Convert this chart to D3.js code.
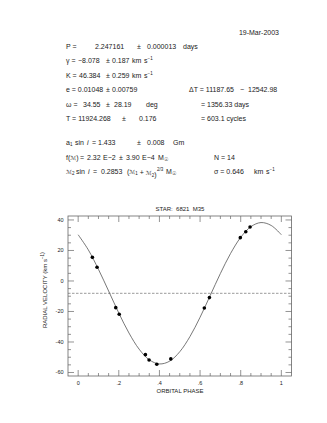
<!DOCTYPE html>
<html>
<head>
<meta charset="utf-8">
<script src="https://cdn.jsdelivr.net/npm/d3@7"></script>
<style>
  body { margin: 0; background: #fff; }
  svg { display: block; font-family: "Liberation Sans", Arial, sans-serif; }
  text { fill: #1a1a1a; }
  .scr { font-family: "DejaVu Sans", sans-serif; font-size: 5.6px; }
</style>
</head>
<body>
<svg width="327" height="423"></svg>
<script>
const svg = d3.select("svg");

// observed radial velocities (phase, km/s)
const obsPhase = [0.070, 0.093, 0.185, 0.202, 0.331, 0.349, 0.387, 0.456, 0.621, 0.646, 0.798, 0.825, 0.846];
const obsRV    = [15.5, 9.0, -17.5, -21.8, -48.3, -51.8, -54.6, -51.1, -17.7, -10.9, 28.4, 32.3, 35.4];

// orbit curve
const curvePhase = [0, 0.05, 0.10, 0.15, 0.20, 0.25, 0.30, 0.35, 0.40, 0.45, 0.50,
                    0.55, 0.60, 0.65, 0.70, 0.75, 0.80, 0.85, 0.90, 0.95, 1.00];
const curveRV    = [30.3, 20.4, 7.6, -6.6, -21.0, -34.1, -44.7, -51.7, -54.4, -52.6, -46.4,
                    -36.5, -23.8, -9.5, 4.9, 18.0, 28.6, 35.6, 38.3, 36.4, 30.3];

const gamma = -8.078;

const xMajor = [0, 0.2, 0.4, 0.6, 0.8, 1];
const xLabels = ["0", ".2", ".4", ".6", ".8", "1"];
const yMajor = [40, 20, 0, -20, -40, -60];
const yLabels = ["40", "20", "0", "-20", "-40", "-60"];

// plot area
const L = 68, R = 291.5, T = 216, B = 376;

const x = d3.scaleLinear().domain([-0.05, 1.05]).range([L, R]);
const y = d3.scaleLinear().domain([-62.3, 42.6]).range([B, T]);

// ---- header text ----
const sup = s => `<tspan dy="-2.6" font-size="4.5">${s}</tspan><tspan dy="2.6"></tspan>`;
const sub = s => `<tspan dy="1.3" font-size="4.5">${s}</tspan><tspan dy="-1.3"></tspan>`;
const M = "<tspan class='scr'>ℳ</tspan>";
function txt(px, py, html, anchor) {
  svg.append("text")
    .attr("x", px).attr("y", py)
    .attr("font-size", 7)
    .attr("text-anchor", anchor || "start")
    .html(html);
}

txt(279, 35, "19-Mar-2003", "end");

txt(66, 49, "P =");
txt(95, 49, "2.247161");
txt(137, 49, "±");
txt(147, 49, "0.000013");
txt(183, 49, "days");

txt(66, 63, "γ =");
txt(78, 63, "−8.078");
txt(106, 63, "±");
txt(112, 63, "0.187");
txt(132, 63, "km");
txt(144, 63, "s" + sup("−1"));

txt(66, 77.5, "K =");
txt(79, 77.5, "46.384");
txt(106, 77.5, "±");
txt(112, 77.5, "0.259");
txt(132, 77.5, "km");
txt(144, 77.5, "s" + sup("−1"));

txt(66, 92, "e = 0.01048");
txt(106, 92, "±");
txt(112, 92, "0.00759");
txt(189, 92, "ΔT = 11187.65");
txt(240, 92, "−");
txt(248, 92, "12542.98");

txt(66, 106.5, "ω =");
txt(83, 106.5, "34.55");
txt(106, 106.5, "±");
txt(114, 106.5, "28.19");
txt(146, 106.5, "deg");
txt(201, 106.5, "= 1356.33 days");

txt(66, 121, "T = 11924.268");
txt(122, 121, "±");
txt(139, 121, "0.176");
txt(201, 121, "= 603.1 cycles");

txt(66, 145, "a" + sub("1"));
txt(75, 145, "sin");
txt(87, 145, "<tspan font-style='italic'>i</tspan>");
txt(92, 145, "=");
txt(98, 145, "1.433");
txt(137, 145, "±");
txt(147, 145, "0.008");
txt(173, 145, "Gm");

txt(66, 159.5, "f(" + M + ")");
txt(80, 159.5, "=");
txt(87, 159.5, "2.32");
txt(103, 159.5, "E−2");
txt(119, 159.5, "±");
txt(126, 159.5, "3.90");
txt(142, 159.5, "E−4");
txt(158, 159.5, "M" + sub("☉"));
txt(214, 159.5, "N = 14");

txt(66, 174, M + sub("2"));
txt(76, 174, "sin");
txt(88, 174, "<tspan font-style='italic'>i</tspan>");
txt(93, 174, "=");
txt(101, 174, "0.2853");
txt(127, 174, "(" + M + sub("1") + " + " + M + sub("2") + ")");
txt(157, 174, sup("2/3"));
txt(166, 174, "M" + sub("☉"));
txt(214, 174, "σ  =  0.646");
txt(254, 174, "km");
txt(266, 174, "s" + sup("−1"));

// ---- plot ----
const g = svg.append("g");

// frame
g.append("rect")
  .attr("x", L).attr("y", T)
  .attr("width", R - L).attr("height", B - T)
  .attr("fill", "none").attr("stroke", "#666").attr("stroke-width", 0.8);

// ticks (major + minor) on all four sides
const xMinor = d3.range(0, 1.0001, 0.05).filter(v => !xMajor.some(m => Math.abs(m - v) < 1e-6));
const yMinor = d3.range(-60, 40.001, 5).filter(v => !yMajor.includes(Math.round(v)));

const tickG = g.append("g").attr("stroke", "#666").attr("stroke-width", 0.7);
function xt(vals, len) {
  vals.forEach(v => {
    tickG.append("line").attr("x1", x(v)).attr("x2", x(v)).attr("y1", B).attr("y2", B - len);
    tickG.append("line").attr("x1", x(v)).attr("x2", x(v)).attr("y1", T).attr("y2", T + len);
  });
}
function yt(vals, len) {
  vals.forEach(v => {
    tickG.append("line").attr("y1", y(v)).attr("y2", y(v)).attr("x1", L).attr("x2", L + len);
    tickG.append("line").attr("y1", y(v)).attr("y2", y(v)).attr("x1", R).attr("x2", R - len);
  });
}
xt(xMajor, 6); xt(xMinor, 3);
yt(yMajor, 6); yt(yMinor, 3);

// tick labels
g.selectAll(".xl").data(xMajor).join("text")
  .attr("x", d => x(d)).attr("y", 385)
  .attr("text-anchor", "middle").attr("font-size", 5.5)
  .text((d, i) => xLabels[i]);

g.selectAll(".yl").data(yMajor).join("text")
  .attr("x", 63.5).attr("y", d => y(d) + 2)
  .attr("text-anchor", "end").attr("font-size", 5.5)
  .text((d, i) => yLabels[i]);

// gamma line
g.append("line")
  .attr("x1", L).attr("x2", R)
  .attr("y1", y(gamma)).attr("y2", y(gamma))
  .attr("stroke", "#555").attr("stroke-width", 0.6)
  .attr("stroke-dasharray", "2.5,1.5");

// orbit curve
const line = d3.line()
  .x(d => x(d[0])).y(d => y(d[1]))
  .curve(d3.curveCatmullRom);
g.append("path")
  .datum(curvePhase.map((p, i) => [p, curveRV[i]]))
  .attr("d", line)
  .attr("fill", "none").attr("stroke", "#555").attr("stroke-width", 0.8);

// observations
g.selectAll(".pt").data(obsPhase.map((p, i) => [p, obsRV[i]])).join("circle")
  .attr("cx", d => x(d[0])).attr("cy", d => y(d[1]))
  .attr("r", 1.8).attr("fill", "#000");

// titles
g.append("text").attr("x", 180).attr("y", 211).attr("text-anchor", "middle")
  .attr("font-size", 6).attr("xml:space", "preserve").text("STAR:  6821  M35");
g.append("text").attr("x", 180).attr("y", 393).attr("text-anchor", "middle")
  .attr("font-size", 6).text("ORBITAL PHASE");
g.append("text")
  .attr("transform", "translate(46.5,290) rotate(-90)")
  .attr("text-anchor", "middle").attr("font-size", 6)
  .html("RADIAL VELOCITY (km s" + sup("−1") + ")");
</script>
</body>
</html>
